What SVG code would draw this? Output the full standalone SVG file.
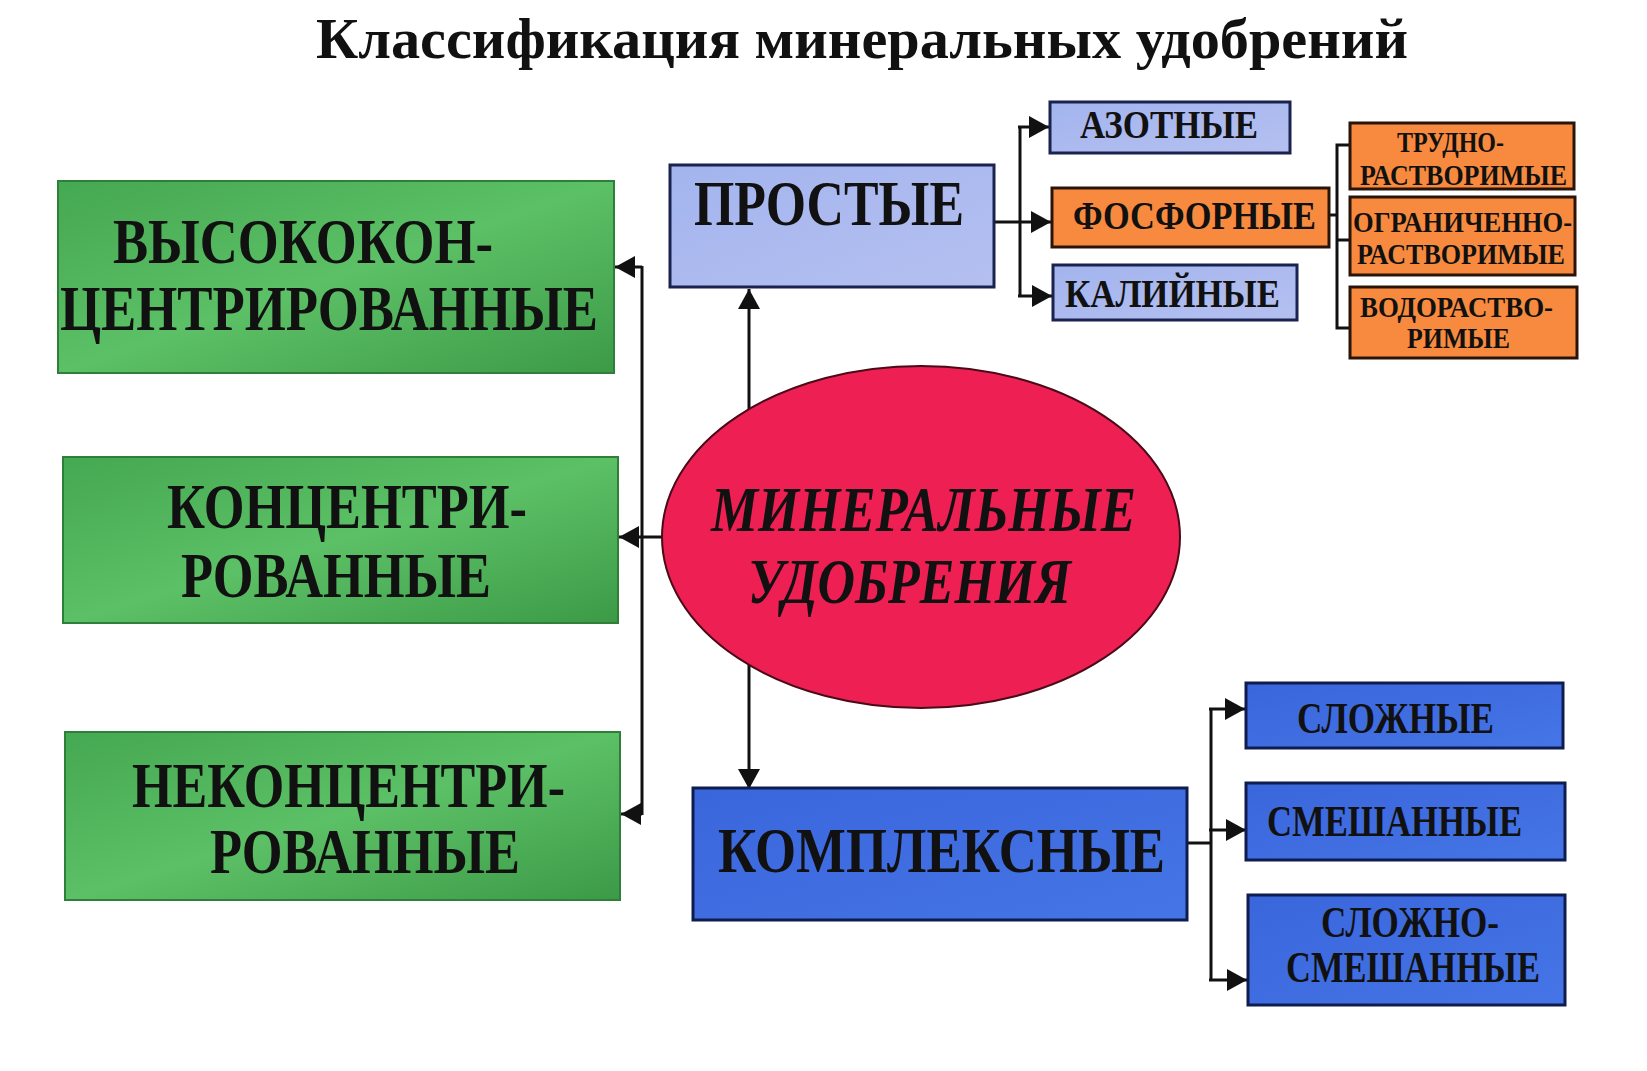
<svg xmlns="http://www.w3.org/2000/svg" width="1647" height="1071" viewBox="0 0 1647 1071">
<style>
.t{font-family:"Liberation Serif","Times New Roman",serif;font-weight:bold;fill:#111;}
.ti{font-family:"Liberation Serif","Times New Roman",serif;font-weight:bold;font-style:italic;fill:#111;}
.green{fill:url(#gGreen);stroke:#2f7f3a;stroke-width:2;}
.lblue{fill:url(#gLBlue);stroke:#1a2350;stroke-width:3;}
.orange{fill:#f78a3e;stroke:#2a1408;stroke-width:3;}
.dblue{fill:url(#gDBlue);stroke:#0e1c50;stroke-width:3;}
.ln{fill:none;stroke:#111;stroke-width:3;}
.arr{marker-end:url(#ah);}
</style>
<defs>
<linearGradient id="gGreen" x1="0" y1="0" x2="1" y2="1">
<stop offset="0" stop-color="#45a852"/>
<stop offset="0.5" stop-color="#5cc066"/>
<stop offset="1" stop-color="#3c9a47"/>
</linearGradient>
<linearGradient id="gLBlue" x1="0" y1="0" x2="1" y2="1">
<stop offset="0" stop-color="#a3b4ee"/>
<stop offset="1" stop-color="#b5c0f0"/>
</linearGradient>
<linearGradient id="gDBlue" x1="0" y1="0" x2="1" y2="1">
<stop offset="0" stop-color="#3a66dc"/>
<stop offset="1" stop-color="#4575e6"/>
</linearGradient>
<marker id="ah" viewBox="0 0 20 22" refX="20" refY="11" markerWidth="20" markerHeight="22" markerUnits="userSpaceOnUse" orient="auto">
<path d="M0,0 L20,11 L0,22 Z" fill="#111"/>
</marker>
</defs>
<rect width="1647" height="1071" fill="#ffffff"/>

<text class="t" x="316" y="58" font-size="58" textLength="1092" lengthAdjust="spacingAndGlyphs">Классификация минеральных удобрений</text>

<g id="connectors">
<path class="ln" d="M642,266 V815"/>
<path class="ln arr" d="M642,267 H615"/>
<path class="ln arr" d="M665,537 H619"/>
<path class="ln arr" d="M642,814 H621"/>
<path class="ln arr" d="M749,410 V289"/>
<path class="ln arr" d="M749,664 V789"/>
<path class="ln arr" d="M994,222 H1051"/>
<path class="ln" d="M1020,126 V297"/>
<path class="ln arr" d="M1018,127 H1049"/>
<path class="ln arr" d="M1018,296 H1052"/>
<path class="ln" d="M1330,215 H1337"/>
<path class="ln" d="M1350,145 H1337 V328 H1350"/>
<path class="ln" d="M1337,240 H1350"/>
<path class="ln" d="M1187,843 H1211"/>
<path class="ln" d="M1211,708 V981"/>
<path class="ln arr" d="M1209,709 H1245"/>
<path class="ln arr" d="M1209,830 H1246"/>
<path class="ln arr" d="M1209,980 H1247"/>
</g>

<g id="node-high">
<rect class="green" x="58" y="181" width="556" height="192"/>
<text class="t" x="113" y="263" font-size="63" textLength="380" lengthAdjust="spacingAndGlyphs">ВЫСОКОКОН-</text>
<text class="t" x="60" y="330" font-size="63" textLength="538" lengthAdjust="spacingAndGlyphs">ЦЕНТРИРОВАННЫЕ</text>
</g>
<g id="node-conc">
<rect class="green" x="63" y="457" width="555" height="166"/>
<text class="t" x="167" y="528" font-size="63" textLength="360" lengthAdjust="spacingAndGlyphs">КОНЦЕНТРИ-</text>
<text class="t" x="181" y="597" font-size="63" textLength="310" lengthAdjust="spacingAndGlyphs">РОВАННЫЕ</text>
</g>
<g id="node-nonconc">
<rect class="green" x="65" y="732" width="555" height="168"/>
<text class="t" x="132" y="807" font-size="63" textLength="433" lengthAdjust="spacingAndGlyphs">НЕКОНЦЕНТРИ-</text>
<text class="t" x="210" y="873" font-size="63" textLength="310" lengthAdjust="spacingAndGlyphs">РОВАННЫЕ</text>
</g>

<g id="node-simple">
<rect class="lblue" x="670" y="165" width="324" height="122"/>
<text class="t" x="694" y="225" font-size="64" textLength="270" lengthAdjust="spacingAndGlyphs">ПРОСТЫЕ</text>
</g>
<g id="node-nitrogen">
<rect class="lblue" x="1050" y="102" width="240" height="51"/>
<text class="t" x="1080" y="138" font-size="40" textLength="178" lengthAdjust="spacingAndGlyphs">АЗОТНЫЕ</text>
</g>
<g id="node-phosphorus">
<rect class="orange" x="1052" y="188" width="277" height="59"/>
<text class="t" x="1073" y="229" font-size="40" textLength="243" lengthAdjust="spacingAndGlyphs">ФОСФОРНЫЕ</text>
</g>
<g id="node-potassium">
<rect class="lblue" x="1053" y="265" width="244" height="55"/>
<text class="t" x="1065" y="307" font-size="40" textLength="215" lengthAdjust="spacingAndGlyphs">КАЛИЙНЫЕ</text>
</g>

<g id="node-hard">
<rect class="orange" x="1350" y="123" width="224" height="66"/>
<text class="t" x="1397" y="152" font-size="29" textLength="107" lengthAdjust="spacingAndGlyphs">ТРУДНО-</text>
<text class="t" x="1360" y="185" font-size="29" textLength="207" lengthAdjust="spacingAndGlyphs">РАСТВОРИМЫЕ</text>
</g>
<g id="node-limited">
<rect class="orange" x="1350" y="197" width="225" height="78"/>
<text class="t" x="1353" y="232" font-size="29" textLength="219" lengthAdjust="spacingAndGlyphs">ОГРАНИЧЕННО-</text>
<text class="t" x="1357" y="264" font-size="29" textLength="208" lengthAdjust="spacingAndGlyphs">РАСТВОРИМЫЕ</text>
</g>
<g id="node-water">
<rect class="orange" x="1350" y="287" width="227" height="71"/>
<text class="t" x="1360" y="317" font-size="29" textLength="193" lengthAdjust="spacingAndGlyphs">ВОДОРАСТВО-</text>
<text class="t" x="1407" y="348" font-size="29" textLength="103" lengthAdjust="spacingAndGlyphs">РИМЫЕ</text>
</g>

<g id="node-mineral">
<ellipse cx="921" cy="537" rx="259" ry="171" fill="#ee1f53" stroke="#4a0a18" stroke-width="2"/>
<text class="ti" x="711" y="531" font-size="63" textLength="425" lengthAdjust="spacingAndGlyphs">МИНЕРАЛЬНЫЕ</text>
<text class="ti" x="748" y="603" font-size="63" textLength="323" lengthAdjust="spacingAndGlyphs">УДОБРЕНИЯ</text>
</g>

<g id="node-complex">
<rect class="dblue" x="693" y="788" width="494" height="132"/>
<text class="t" x="718" y="872" font-size="64" textLength="447" lengthAdjust="spacingAndGlyphs">КОМПЛЕКСНЫЕ</text>
</g>
<g id="node-compound">
<rect class="dblue" x="1246" y="683" width="317" height="65"/>
<text class="t" x="1297" y="733" font-size="44" textLength="197" lengthAdjust="spacingAndGlyphs">СЛОЖНЫЕ</text>
</g>
<g id="node-mixed">
<rect class="dblue" x="1246" y="783" width="319" height="77"/>
<text class="t" x="1267" y="836" font-size="44" textLength="255" lengthAdjust="spacingAndGlyphs">СМЕШАННЫЕ</text>
</g>
<g id="node-compmixed">
<rect class="dblue" x="1248" y="895" width="317" height="110"/>
<text class="t" x="1321" y="937" font-size="44" textLength="178" lengthAdjust="spacingAndGlyphs">СЛОЖНО-</text>
<text class="t" x="1286" y="982" font-size="44" textLength="254" lengthAdjust="spacingAndGlyphs">СМЕШАННЫЕ</text>
</g>
</svg>
